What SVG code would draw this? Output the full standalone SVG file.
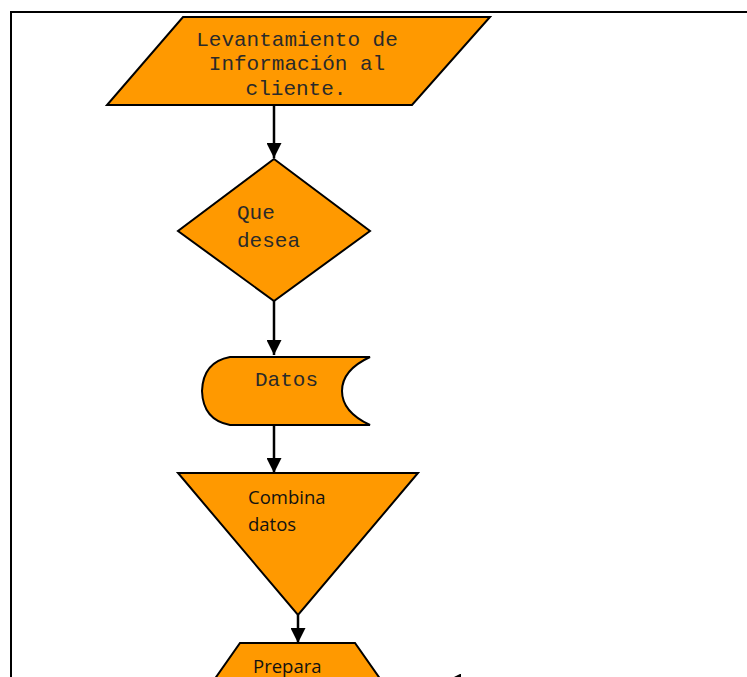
<svg xmlns="http://www.w3.org/2000/svg" width="747" height="677" viewBox="0 0 747 677">
<style>
.shape{fill:#FF9900;stroke:#000;stroke-width:2;stroke-linejoin:miter}
.mono{font-family:"Liberation Mono","Courier New",monospace;font-size:21px;fill:#2a2a2a}
.sans{font-family:"Open Sans","Liberation Sans",sans-serif;font-size:18.5px;fill:#111}
.conn{stroke:#000;stroke-width:2.5;fill:none}
</style>
<defs>
<marker id="ah" viewBox="0 0 10 10" refX="10" refY="5" markerWidth="6" markerHeight="6" markerUnits="strokeWidth" orient="auto">
<path d="M0,0 L10,5 L0,10 z" fill="#000"/>
</marker>
</defs>
<rect x="11" y="12" width="800" height="800" fill="none" stroke="#000" stroke-width="2"/>
<g id="connectors">
<line class="conn" x1="274" y1="106" x2="274" y2="158" marker-end="url(#ah)"/>
<line class="conn" x1="274" y1="301" x2="274" y2="355" marker-end="url(#ah)"/>
<line class="conn" x1="274" y1="425" x2="274" y2="473" marker-end="url(#ah)"/>
<line class="conn" x1="298" y1="615" x2="298" y2="643" marker-end="url(#ah)"/>
<line class="conn" x1="520" y1="681" x2="446" y2="681" marker-end="url(#ah)"/>
</g>
<g id="node-levantamiento">
<polygon class="shape" points="183,17 490,17 412,105 107,105"/>
<text class="mono" text-anchor="middle" x="297" y="46">Levantamiento de</text>
<text class="mono" text-anchor="middle" x="297" y="70">Información al</text>
<text class="mono" text-anchor="middle" x="296" y="95">cliente.</text>
</g>
<g id="node-que-desea">
<polygon class="shape" points="274,159 370,231 274,301 178,231"/>
<text class="mono" x="237" y="219">Que</text>
<text class="mono" x="237" y="247">desea</text>
</g>
<g id="node-datos">
<path class="shape" d="M230,357 L370,357 Q342,370 342,391 Q342,412 370,425 L230,425 Q203,420 202,391 Q203,362 230,357 Z"/>
<text class="mono" x="255" y="386">Datos</text>
</g>
<g id="node-combina">
<polygon class="shape" points="178,473 418,473 298,615"/>
<text class="sans" x="248" y="504">Combina</text>
<text class="sans" x="248" y="531">datos</text>
</g>
<g id="node-prepara">
<polygon class="shape" points="240,643 355,643 395,700 200,700"/>
<text class="sans" x="253" y="673">Prepara</text>
</g>
</svg>
